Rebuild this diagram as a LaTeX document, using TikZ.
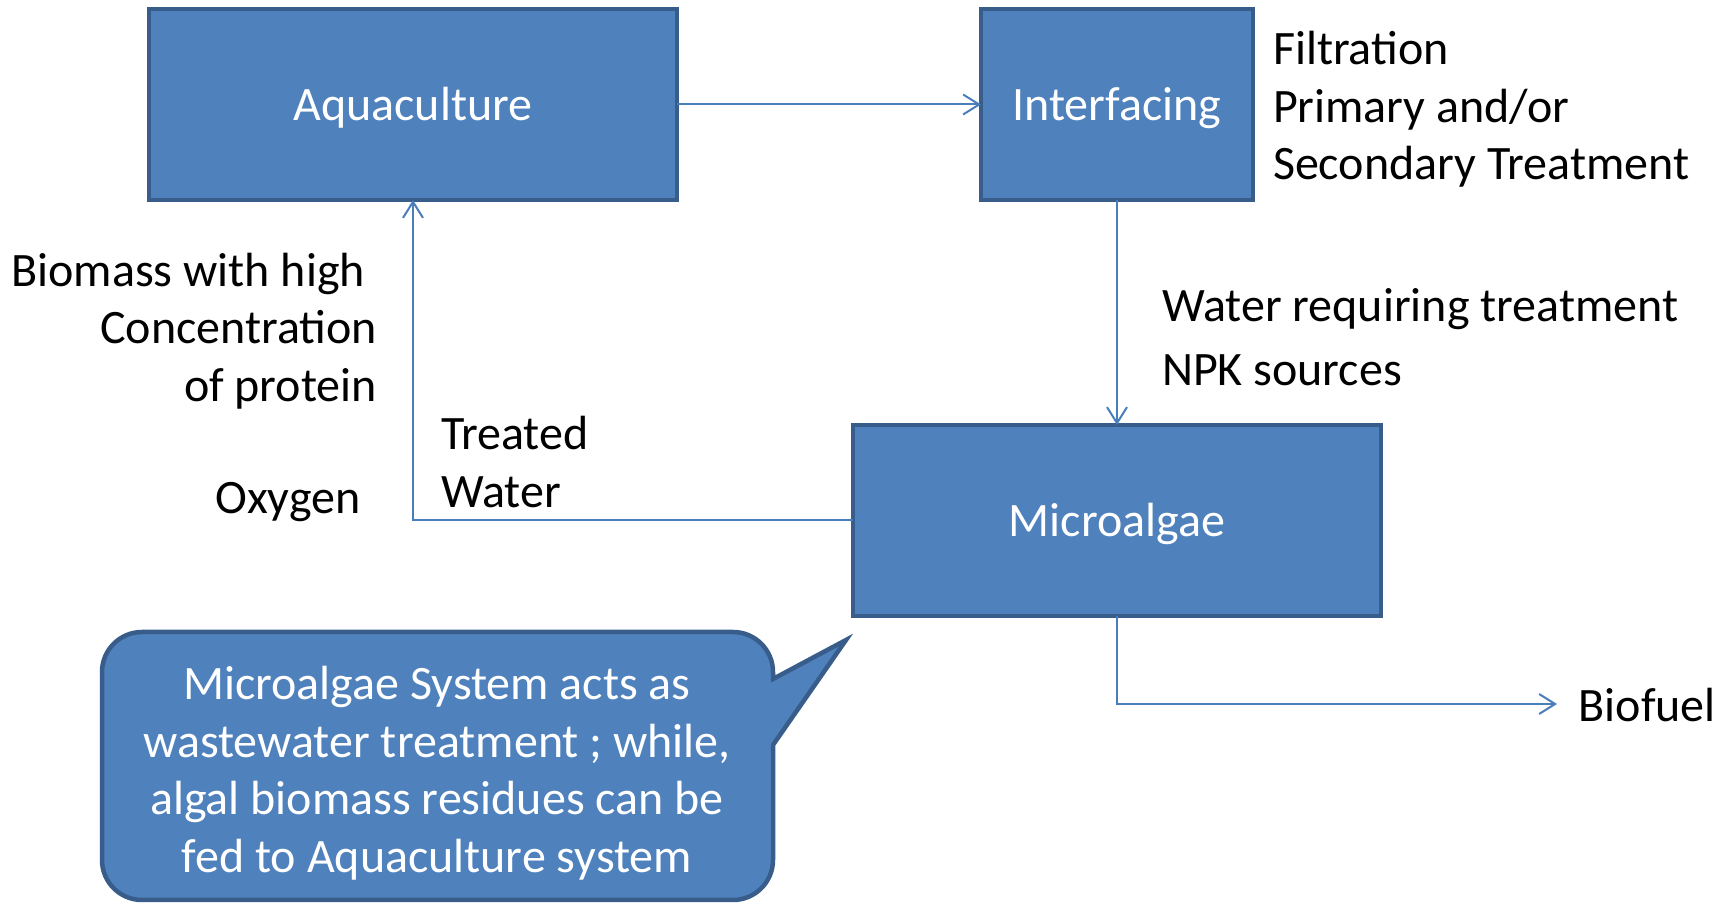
\documentclass[tikz,border=0pt]{standalone}
\usepackage{fontspec}
\setmainfont{Carlito}
\usetikzlibrary{arrows.meta}
\definecolor{boxfill}{HTML}{4F81BD}
\definecolor{boxline}{HTML}{385D8A}
\definecolor{flow}{HTML}{4A7EBB}
\tikzset{
  procbox/.style={draw=boxline, fill=boxfill, line width=4.5pt, inner sep=0pt, outer sep=0pt,
    text=white, font=\fontsize{48}{57.5}\selectfont, text height=42pt, text depth=9pt},
  lbl/.style={inner sep=0pt, outer sep=0pt, text=black, font=\fontsize{48}{57.5}\selectfont},
  flowline/.style={draw=flow, line width=2pt, -{Straight Barb[length=16pt,width=20pt]}},
}
\begin{document}
\begin{tikzpicture}[x=1pt,y=1pt]
\useasboundingbox (0,0) rectangle (1725,905);

% process boxes
\node[procbox, minimum width=528pt, minimum height=191pt] (aqua) at (413,800.5) {Aquaculture};
\node[procbox, minimum width=272pt, minimum height=191pt] (inter) at (1117,800.5) {Interfacing};
\node[procbox, minimum width=528pt, minimum height=191pt] (micro) at (1117,384.5) {Microalgae};

% labels
\node[lbl, anchor=west, align=left] (filt) at (1273,795.4) {Filtration\\Primary and/or\\Secondary Treatment};
\node[lbl, anchor=west] (water) at (1162,595.7) {Water requiring treatment};
\node[lbl, anchor=west] (npk) at (1162,534.4) {NPK sources};
\node[lbl, anchor=east, align=right] (biomass) at (377,573.9) {Biomass with high\hspace*{0.25em}\\Concentration\\of protein};
\node[lbl] (oxy) at (288,403.4) {Oxygen};
\node[lbl, anchor=west, align=left] (treated) at (441,443) {Treated\\Water};
\node[lbl, anchor=west] (biofuel) at (1578.6,200) {Biofuel};
\coordinate (biofuelin) at (1557,201);

% connectors
\draw[flowline] (aqua.east) -- (inter.west);
\draw[flowline] (inter.south) -- (micro.north);
\draw[flowline] (micro.west) -| (aqua.south);
\draw[flowline] (micro.south) |- (biofuelin);

% speech callout
\draw[draw=boxline, fill=boxfill, line width=4.5pt, line join=miter]
  (773,160) -- (773,45) arc[start angle=0, end angle=-90, radius=40]
  -- (142,5) arc[start angle=270, end angle=180, radius=40]
  -- (102,233) arc[start angle=180, end angle=90, radius=40]
  -- (733,273) arc[start angle=90, end angle=0, radius=40]
  -- (773,226) -- (846,265) -- cycle;
\node[lbl, text=white, align=center] (note) at (437,131.9)
  {Microalgae System acts as\\wastewater treatment ; while,\\algal biomass residues can be\\fed to Aquaculture system};
\end{tikzpicture}
\end{document}
